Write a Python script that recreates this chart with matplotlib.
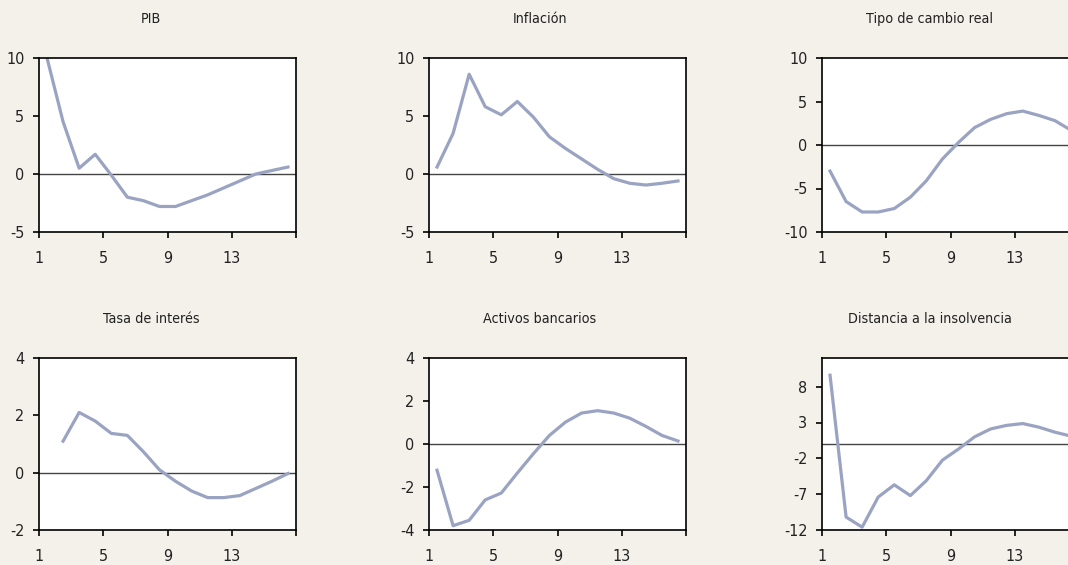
import matplotlib
matplotlib.use("Agg")
import matplotlib.pyplot as plt
import numpy as np

# periodos (16 trimestres)
periodos = np.arange(1, 17)

titulos = ["PIB", "Inflación", "Tipo de cambio real",
           "Tasa de interés", "Activos bancarios", "Distancia a la insolvencia"]

pib = [10.0, 4.5, 0.5, 1.7, -0.1, -2.0, -2.3, -2.8, -2.8, -2.3, -1.8, -1.2, -0.6, 0.0, 0.3, 0.6]
inflacion = [0.6, 3.5, 8.6, 5.8, 5.1, 6.25, 4.9, 3.2, 2.2, 1.3, 0.4, -0.4, -0.8, -0.95, -0.8, -0.6]
tcr = [-3.0, -6.5, -7.7, -7.7, -7.3, -6.0, -4.1, -1.6, 0.3, 2.0, 2.95, 3.6, 3.9, 3.4, 2.8, 1.7]
tasa = [np.nan, 1.1, 2.1, 1.8, 1.37, 1.3, 0.73, 0.1, -0.3, -0.64, -0.87, -0.87, -0.8, -0.55, -0.3, -0.03]
activos = [-1.22, -3.8, -3.55, -2.6, -2.28, -1.35, -0.45, 0.4, 1.02, 1.44, 1.55, 1.44, 1.2, 0.82, 0.4, 0.14]
distancia = [9.6, -10.2, -11.6, -7.4, -5.7, -7.2, -5.1, -2.25, -0.7, 1.0, 2.1, 2.6, 2.85, 2.35, 1.65, 1.1]

series = [pib, inflacion, tcr, tasa, activos, distancia]
ylims = [(-5, 10), (-5, 10), (-10, 10), (-2, 4), (-4, 4), (-12, 12)]
yticks = [[-5, 0, 5, 10], [-5, 0, 5, 10], [-10, -5, 0, 5, 10],
          [-2, 0, 2, 4], [-4, -2, 0, 2, 4], [-12, -7, -2, 3, 8]]

fondo = "#f4f1eb"
azul = "#9aa4c2"

# letra estrecha como en el original
plt.rcParams["font.family"] = ["DejaVu Sans"]
plt.rcParams["font.stretch"] = "condensed"

W, H = 1068, 565
fig = plt.figure(figsize=(W / 100, H / 100), dpi=100, facecolor=fondo)

# posiciones en pixeles: izquierda de cada columna, arriba/abajo de cada fila
lefts = [39, 429, 822]
ancho = 257
filas = [(58, 232), (358, 530)]
centros_titulo = [151, 540, 930]
y_titulo = [19, 319]

for k in range(6):
    r, c = divmod(k, 3)
    top, bot = filas[r]
    ax = fig.add_axes([lefts[c] / W, 1 - bot / H, ancho / W, (bot - top) / H])
    ax.set_facecolor("white")
    ax.axhline(0, color="#444444", lw=1.0, zorder=1)
    ax.plot(periodos + 0.5, series[k], color=azul, lw=2.3, zorder=2)
    ax.set_xlim(1, 17)
    ax.set_ylim(*ylims[k])
    ax.set_xticks([1, 5, 9, 13, 17])
    ax.set_xticklabels(["1", "5", "9", "13", ""])
    ax.set_yticks(yticks[k])
    ax.set_yticklabels([str(v) for v in yticks[k]])
    for s in ax.spines.values():
        s.set_linewidth(1.2)
        s.set_color("black")
    ax.tick_params(direction="out", length=4.5, width=1.2, labelsize=11.5,
                   colors="black", labelcolor="#222222")
    ax.tick_params(axis="x", pad=9)
    ax.tick_params(axis="y", pad=6)
    fig.text(centros_titulo[c] / W, 1 - y_titulo[r] / H, titulos[k],
             ha="center", va="center", fontsize=10.3, color="#222222")

fig.savefig("out.png", dpi=100, facecolor=fondo)
